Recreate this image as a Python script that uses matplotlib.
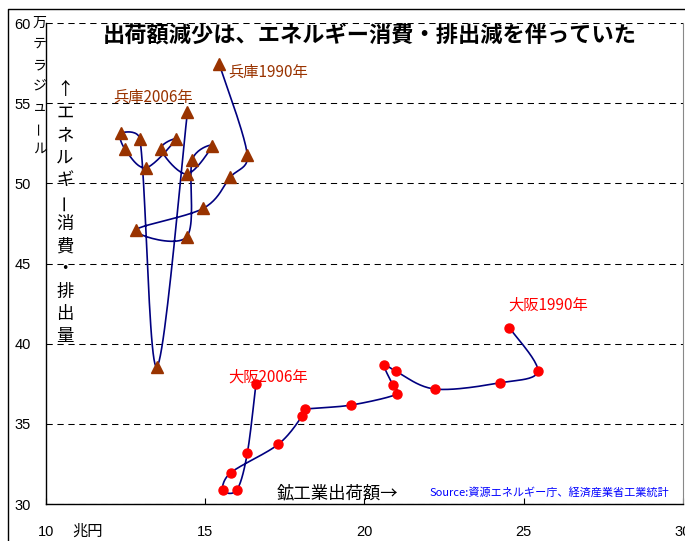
import numpy as np
import matplotlib
matplotlib.use("Agg")
import matplotlib.pyplot as plt
from matplotlib.lines import Line2D

plt.rcParams['font.family'] = ['Noto Sans CJK JP', 'DejaVu Sans']

# 1990 -> 2006, x: 鉱工業出荷額 (兆円), y: エネルギー消費・排出量 (万テラジュール)
years = list(range(1990, 2007))
hyogo_x = [15.44, 16.32, 15.78, 14.94, 12.82, 14.42, 14.59, 15.22, 14.42,
           13.61, 14.08, 13.14, 12.48, 12.35, 12.95, 13.48, 14.44]
hyogo_y = [57.44, 51.77, 50.37, 48.44, 47.09, 46.67, 51.45, 52.35, 50.58,
           52.12, 52.74, 50.97, 52.14, 53.12, 52.74, 38.56, 54.43]
osaka_x = [24.55, 25.44, 24.26, 22.21, 20.98, 20.61, 20.89, 21.03, 19.58,
           18.13, 18.05, 17.29, 15.80, 15.55, 15.99, 16.32, 16.59]
osaka_y = [40.99, 38.29, 37.56, 37.17, 38.29, 38.67, 37.42, 36.86, 36.17,
           35.90, 35.50, 33.72, 31.95, 30.87, 30.87, 33.16, 37.46]

x_ticks = [10, 15, 20, 25, 30]
y_ticks = [30, 35, 40, 45, 50, 55, 60]

title = "出荷額減少は、エネルギー消費・排出減を伴っていた"
ylabel_chars = list("↑エネルギー消費・排出量")
unit_chars = list("万テラジュール")
xlabel = "鉱工業出荷額→"
source = "Source:資源エネルギー庁、経済産業省工業統計"

HYOGO_C = '#993300'
OSAKA_C = '#FF0000'
LINE_C = '#000080'

W, H = 685, 541
fig = plt.figure(figsize=(W / 100, H / 100), dpi=100)


def fx(x):
    return x / W


def fy(y):
    return 1 - y / H


def smooth(ax, xs, ys, n=24):
    """Excel-like smoothed line: cubic Bezier with Catmull-Rom tangents,
    arms clamped so short segments next to long ones don't overshoot"""
    pts = ax.transData.transform(np.column_stack([xs, ys]))
    p = np.vstack([pts[0], pts, pts[-1]])
    t = np.linspace(0, 1, n)[:, None]
    out = []
    for i in range(1, len(p) - 2):
        p0, p1, p2, p3 = p[i - 1], p[i], p[i + 1], p[i + 2]
        seglen = np.linalg.norm(p2 - p1)
        a1 = (p2 - p0) / 6
        a2 = (p3 - p1) / 6
        for a in (a1, a2):
            la = np.linalg.norm(a)
            if la > seglen / 2 and la > 0:
                a *= (seglen / 2) / la
        c1 = p1 + a1
        c2 = p2 - a2
        seg = ((1 - t) ** 3) * p1 + 3 * ((1 - t) ** 2) * t * c1 \
            + 3 * (1 - t) * t ** 2 * c2 + t ** 3 * p2
        out.append(seg if i == 1 else seg[1:])
    return ax.transData.inverted().transform(np.vstack(out))


ax = fig.add_axes([fx(46), fy(504), (683 - 46) / W, (504 - 23) / H])
ax.set_xlim(10, 30)
ax.set_ylim(30, 60)

# curves
for xs, ys in [(hyogo_x, hyogo_y), (osaka_x, osaka_y)]:
    c = smooth(ax, xs, ys)
    ax.plot(c[:, 0], c[:, 1], color=LINE_C, lw=1.2, zorder=3, solid_capstyle='round')

ax.plot(hyogo_x, hyogo_y, linestyle='none', marker='^', ms=8,
        color=HYOGO_C, mec=HYOGO_C, zorder=4, clip_on=False)
ax.plot(osaka_x, osaka_y, linestyle='none', marker='o', ms=6.5,
        color=OSAKA_C, mec=OSAKA_C, zorder=4, clip_on=False)

# point labels
ax.text(15.71, 56.94, "兵庫1990年", color=HYOGO_C, fontsize=11, ha='left', va='center')
ax.text(12.10, 55.38, "兵庫2006年", color=HYOGO_C, fontsize=11, ha='left', va='center')
ax.text(24.51, 42.41, "大阪1990年", color=OSAKA_C, fontsize=11, ha='left', va='center')
ax.text(15.71, 37.92, "大阪2006年", color=OSAKA_C, fontsize=11, ha='left', va='center')

# axes styling
ax.set_xticks(x_ticks)
ax.set_yticks(y_ticks)
ax.tick_params(axis='x', direction='in', length=4, width=0.8, pad=15, labelsize=10.5)
ax.tick_params(axis='y', length=0, pad=11, labelsize=10.5)
for lbl in ax.get_xticklabels() + ax.get_yticklabels():
    lbl.set_fontfamily('Liberation Sans')
ax.yaxis.grid(True, color='black', lw=0.75, linestyle=(0, (6, 4.5)))
ax.spines['top'].set_visible(False)
ax.spines['right'].set_color('#888888')
for s in ['left', 'bottom']:
    ax.spines[s].set_color('black')
    ax.spines[s].set_linewidth(1.0)

# texts
fig.text(fx(370), fy(35), title, ha='center', va='center', fontsize=16, fontweight='bold')
fig.text(fx(277), fy(493), xlabel, ha='left', va='center', fontsize=12.5)
fig.text(fx(430), fy(492), source, ha='left', va='center', fontsize=8, color='#0000FF')
fig.text(fx(72), fy(531), "兆円", ha='left', va='center', fontsize=11)

for i, ch in enumerate(ylabel_chars):
    rot = 90 if ch == 'ー' else 0
    fig.text(fx(65), fy(90 + i * 22.4), ch, ha='center', va='center', fontsize=12.5, rotation=rot)
for i, ch in enumerate(unit_chars):
    rot = 90 if ch == 'ー' else 0
    fig.text(fx(39.5), fy(23 + i * 21), ch, ha='center', va='center', fontsize=10, rotation=rot)

# outer frame
fig.add_artist(Line2D([fx(8), fx(8), fx(W + 5)], [fy(H + 5), fy(9), fy(9)],
                      color='black', lw=1.0, transform=fig.transFigure))

fig.savefig('out.png', dpi=100)
